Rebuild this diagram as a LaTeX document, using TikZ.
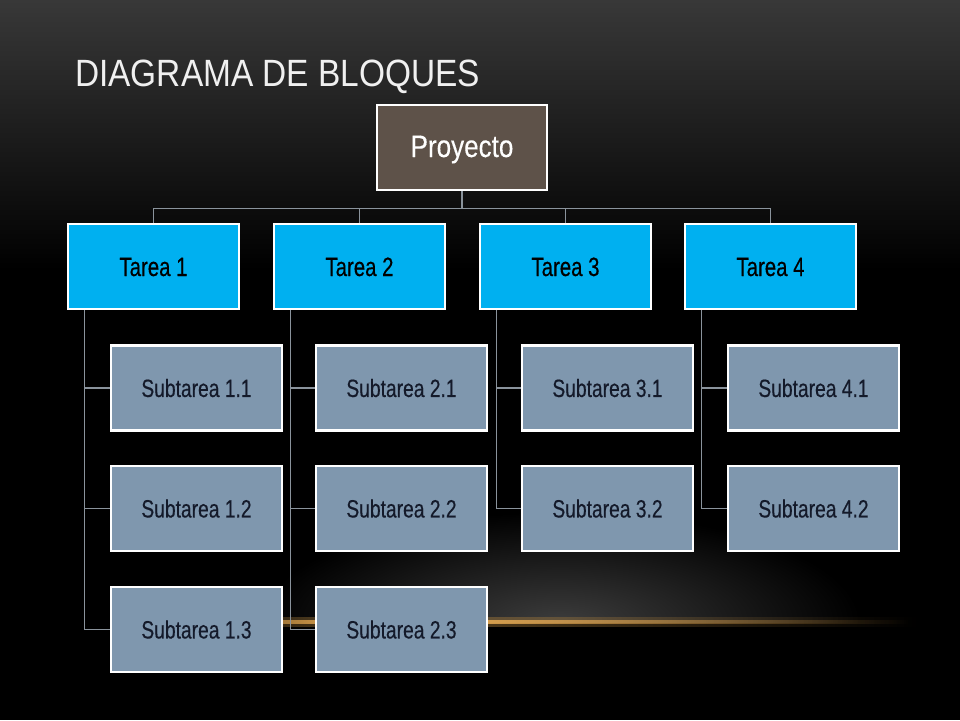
\documentclass[tikz,border=0pt]{standalone}
\usepackage{fontspec}
\setmainfont{Liberation Sans}
\newfontfamily\titlefont[FakeStretch=0.88]{Liberation Sans}
\newfontfamily\boxfont[FakeStretch=0.77,FakeBold=0.35]{Liberation Sans}
\newfontfamily\projfont[FakeStretch=0.84,FakeBold=0.3]{Liberation Sans}
\usetikzlibrary{fadings}
\definecolor{bgtop}{HTML}{383838}
\definecolor{projfill}{HTML}{5E5249}
\definecolor{taskfill}{HTML}{00B0F0}
\definecolor{subfill}{HTML}{7F97AE}
\definecolor{subtext}{HTML}{141A2A}
\definecolor{conncol}{HTML}{8A939C}
\definecolor{glowcol}{HTML}{3C3C3C}
\definecolor{streak}{HTML}{F2B255}
\tikzfading[name=fadeinL, left color=transparent!100, right color=transparent!0]
\tikzfading[name=fadeoutR, left color=transparent!0, right color=transparent!100]
\tikzset{
  boxbase/.style={draw=white, line width=2.4pt, inner sep=0pt, minimum width=171pt, minimum height=85pt, rectangle, text depth=0pt},
  projbox/.style={boxbase, fill=projfill, text=white, font=\projfont\fontsize{31}{31}\selectfont, minimum width=170pt, text height=19pt},
  taskbox/.style={boxbase, fill=taskfill, text=black, font=\boxfont\fontsize{26.5}{26.5}\selectfont, text height=19pt},
  subbox/.style={boxbase, fill=subfill, text=subtext, font=\boxfont\fontsize{25}{25}\selectfont, text height=17.9pt},
  conn/.style={draw=conncol, line width=1.1pt},
}
\begin{document}
\begin{tikzpicture}[x=1pt,y=-1pt]
\useasboundingbox (0,0) rectangle (960,720);
% background
\fill[black] (0,0) rectangle (960,720);
\shade[top color=bgtop, bottom color=black] (0,0) rectangle (960,270);
\begin{scope}
  \clip (0,450) rectangle (960,622);
  \shade[inner color=glowcol, outer color=black] (560,622) ellipse [x radius=300, y radius=110];
\end{scope}
% streak
\fill[streak!70!black, path fading=fadeinL, opacity=0.55] (140,617) rectangle (380,627);
\fill[streak!70!black, path fading=fadeoutR, opacity=0.55] (380,617) rectangle (920,627);
\fill[streak, path fading=fadeinL] (150,620) rectangle (380,624);
\fill[streak, path fading=fadeoutR] (380,620) rectangle (910,624);
% title
\node[anchor=base west, inner sep=0pt, text=white!94!black, font=\titlefont\fontsize{38}{38}\selectfont] (title) at (75,86.5) {DIAGRAMA DE BLOQUES};
% nodes
\node[projbox] (P) at (462,147.5) {Proyecto};
\node[taskbox] (T1) at (153.5,266.5) {Tarea 1};
\node[taskbox] (T2) at (359.5,266.5) {Tarea 2};
\node[taskbox] (T3) at (565.5,266.5) {Tarea 3};
\node[taskbox] (T4) at (770.5,266.5) {Tarea 4};
\node[subbox] (S11) at (196.5,388) {Subtarea 1.1};
\node[subbox] (S12) at (196.5,508.5) {Subtarea 1.2};
\node[subbox] (S13) at (196.5,629.5) {Subtarea 1.3};
\node[subbox] (S21) at (401.5,388) {Subtarea 2.1};
\node[subbox] (S22) at (401.5,508.5) {Subtarea 2.2};
\node[subbox] (S23) at (401.5,629.5) {Subtarea 2.3};
\node[subbox] (S31) at (607.5,388) {Subtarea 3.1};
\node[subbox] (S32) at (607.5,508.5) {Subtarea 3.2};
\node[subbox] (S41) at (813.5,388) {Subtarea 4.1};
\node[subbox] (S42) at (813.5,508.5) {Subtarea 4.2};
% connectors
\foreach \t in {T1,T2,T3,T4}{
  \draw[conn] (P.south) -- ++(0,17.5) -| (\t.north);
}
\foreach \t/\s in {T1/S11,T1/S12,T1/S13,T2/S21,T2/S22,T2/S23,T3/S31,T3/S32,T4/S41,T4/S42}{
  \draw[conn] ([xshift=18pt]\t.south west) |- (\s.west);
}
\end{tikzpicture}
\end{document}
